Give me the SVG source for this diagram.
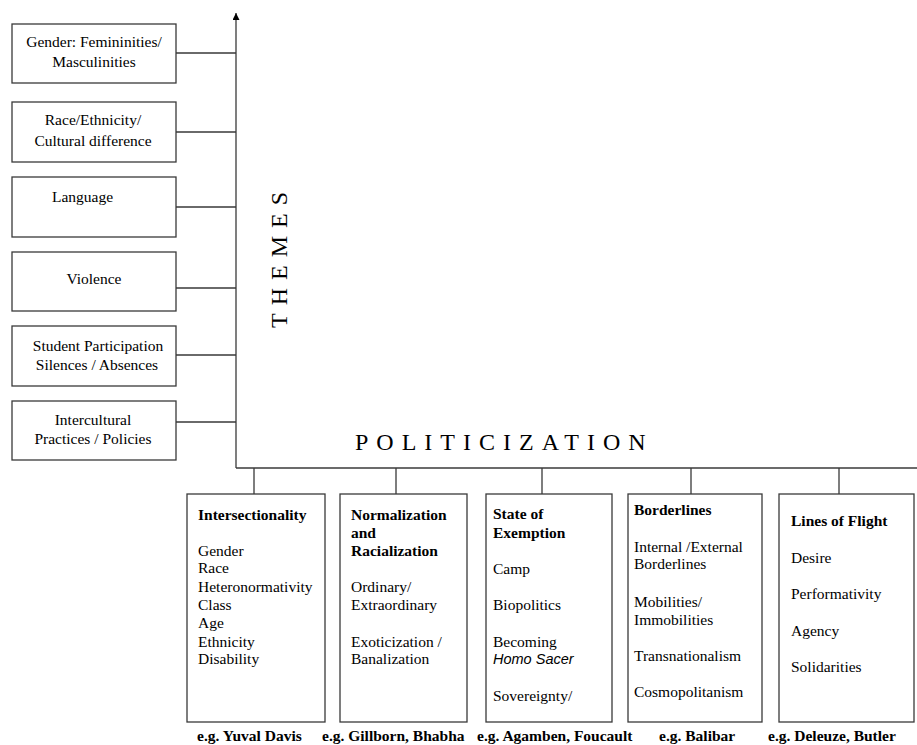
<svg xmlns="http://www.w3.org/2000/svg" width="917" height="745" viewBox="0 0 917 745">
<defs>
<style>
.box{fill:#fff;stroke:#3a3a3a;stroke-width:1.3}
.ln{fill:none;stroke:#3a3a3a;stroke-width:1.3}
text{font-family:"Liberation Serif","Times New Roman",serif;font-size:15.5px;fill:#000}
.c{text-anchor:middle}
.b{font-weight:bold}
.big{font-size:24px;letter-spacing:8px}
.it{font-family:"Liberation Sans",Arial,sans-serif;font-style:italic;font-size:14.5px}
.eg{font-weight:bold;font-size:15.5px}
</style>
<marker id="ah" viewBox="0 0 8 8" refX="8" refY="4" markerWidth="8" markerHeight="7" markerUnits="userSpaceOnUse" orient="auto">
<path d="M0,0 L8,4 L0,8 Z" fill="#000"/>
</marker>
</defs>
<rect width="917" height="745" fill="#fff"/>
<g id="connectors">
<path class="ln" d="M236,468 V13" marker-end="url(#ah)"/>
<path class="ln" d="M236,468 H917"/>
<path class="ln" d="M176,53 H236 M176,132 H236 M176,207 H236 M176,288 H236 M176,355 H236 M176,422 H236"/>
<path class="ln" d="M254,468 V494 M396,468 V494 M542,468 V494 M691,468 V494 M839,468 V494"/>
</g>
<g id="axis-labels">
<text class="big" transform="translate(287,328) rotate(-90)">THEMES</text>
<text class="big" x="355" y="450">POLITICIZATION</text>
</g>
<g id="theme-gender">
<rect class="box" x="12" y="24" width="164" height="59"/>
<text class="c" x="94" y="47">Gender: Femininities/</text>
<text class="c" x="94" y="67">Masculinities</text>
</g>
<g id="theme-race">
<rect class="box" x="12" y="102" width="164" height="60"/>
<text class="c" x="93" y="125">Race/Ethnicity/</text>
<text class="c" x="93" y="146">Cultural difference</text>
</g>
<g id="theme-language">
<rect class="box" x="12" y="177" width="164" height="60"/>
<text x="52" y="202">Language</text>
</g>
<g id="theme-violence">
<rect class="box" x="12" y="252" width="164" height="59"/>
<text class="c" x="94" y="284">Violence</text>
</g>
<g id="theme-student">
<rect class="box" x="12" y="326" width="164" height="60"/>
<text class="c" x="98" y="351">Student Participation</text>
<text class="c" x="97" y="370">Silences / Absences</text>
</g>
<g id="theme-intercultural">
<rect class="box" x="12" y="401" width="164" height="59"/>
<text class="c" x="93" y="425">Intercultural</text>
<text class="c" x="93" y="444">Practices / Policies</text>
</g>
<g id="pol-intersectionality">
<rect class="box" x="187" y="494" width="138" height="228"/>
<text class="b" x="198" y="520">Intersectionality</text>
<text x="198" y="556">Gender</text>
<text x="198" y="573">Race</text>
<text x="198" y="592">Heteronormativity</text>
<text x="198" y="610">Class</text>
<text x="198" y="628">Age</text>
<text x="198" y="647">Ethnicity</text>
<text x="198" y="664">Disability</text>
<text class="eg" x="197" y="741">e.g. Yuval Davis</text>
</g>
<g id="pol-normalization">
<rect class="box" x="340" y="494" width="127" height="228"/>
<text class="b" x="351" y="520">Normalization</text>
<text class="b" x="351" y="538">and</text>
<text class="b" x="351" y="556">Racialization</text>
<text x="351" y="592">Ordinary/</text>
<text x="351" y="610">Extraordinary</text>
<text x="351" y="647">Exoticization /</text>
<text x="351" y="664">Banalization</text>
<text class="eg" x="322" y="741">e.g. Gillborn, Bhabha</text>
</g>
<g id="pol-exemption">
<rect class="box" x="486" y="494" width="126" height="228"/>
<text class="b" x="493" y="519">State of</text>
<text class="b" x="493" y="538">Exemption</text>
<text x="493" y="574">Camp</text>
<text x="493" y="610">Biopolitics</text>
<text x="493" y="647">Becoming</text>
<text class="it" x="493" y="664">Homo Sacer</text>
<text x="493" y="701">Sovereignty/</text>
<text class="eg" x="477" y="741">e.g. Agamben, Foucault</text>
</g>
<g id="pol-borderlines">
<rect class="box" x="628" y="494" width="134" height="228"/>
<text class="b" x="634" y="515">Borderlines</text>
<text x="634" y="552">Internal /External</text>
<text x="634" y="569">Borderlines</text>
<text x="634" y="607">Mobilities/</text>
<text x="634" y="625">Immobilities</text>
<text x="634" y="661">Transnationalism</text>
<text x="634" y="697">Cosmopolitanism</text>
<text class="eg" x="659" y="741">e.g. Balibar</text>
</g>
<g id="pol-flight">
<rect class="box" x="779" y="494" width="135" height="228"/>
<text class="b" x="791" y="526">Lines of Flight</text>
<text x="791" y="563">Desire</text>
<text x="791" y="599">Performativity</text>
<text x="791" y="636">Agency</text>
<text x="791" y="672">Solidarities</text>
<text class="eg" x="768" y="741">e.g. Deleuze, Butler</text>
</g>
</svg>
